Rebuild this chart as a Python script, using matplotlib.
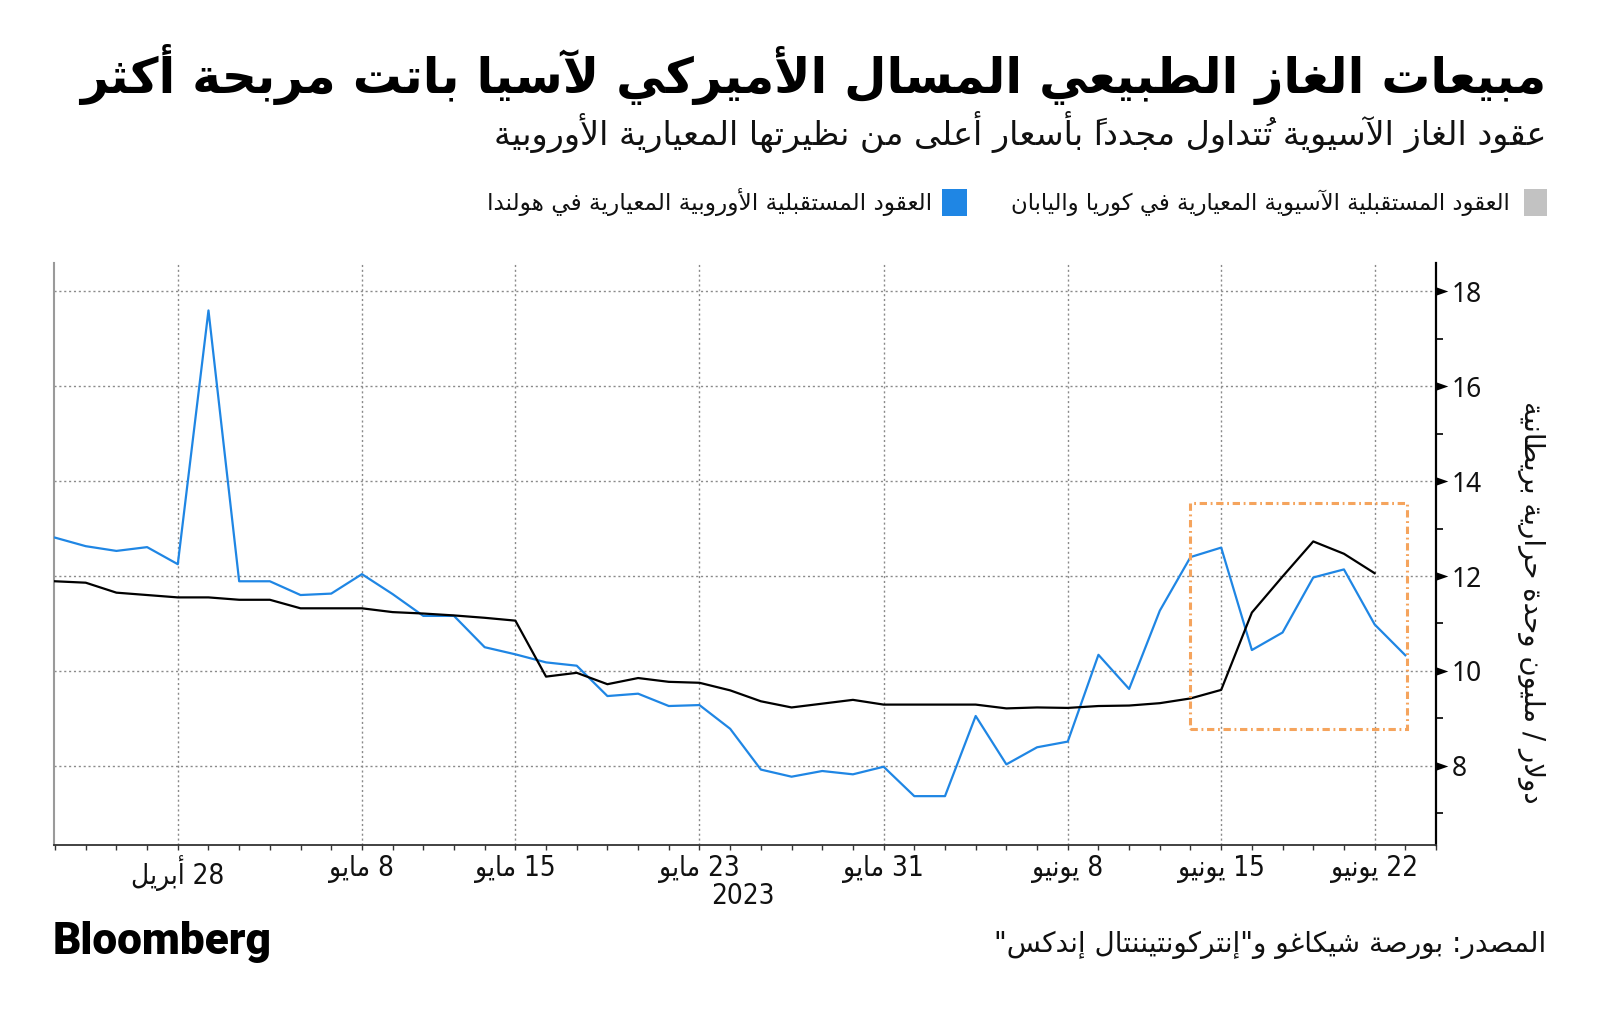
import numpy as np
import pandas as pd
import matplotlib
matplotlib.use("Agg")
import matplotlib.pyplot as plt
from matplotlib.patches import Rectangle
from matplotlib.path import Path
from matplotlib.ticker import FixedLocator, MultipleLocator

# ---------------- data ----------------
trading_days = pd.bdate_range("2023-04-24", "2023-06-23")

# European benchmark (Dutch TTF) futures, $/MMBtu
eu_values = [12.81, 12.63, 12.53, 12.61, 12.25, 17.60, 11.89, 11.89, 11.60, 11.63,
             12.04, 11.62, 11.16, 11.16, 10.50, 10.35, 10.18, 10.11, 9.47, 9.52,
             9.26, 9.28, 8.78, 7.92, 7.77, 7.89, 7.82, 7.98, 7.36, 7.36,
             9.05, 8.03, 8.39, 8.51, 10.34, 9.62, 11.27, 12.40, 12.60, 10.44,
             10.81, 11.97, 12.14, 10.98, 10.33]

# Asian benchmark (JKM) futures, $/MMBtu
asia_values = [11.89, 11.86, 11.65, 11.60, 11.55, 11.55, 11.50, 11.50, 11.32, 11.32,
               11.32, 11.24, 11.21, 11.17, 11.12, 11.06, 9.88, 9.96, 9.72, 9.85,
               9.77, 9.75, 9.59, 9.36, 9.23, 9.31, 9.39, 9.29, 9.29, 9.29,
               9.29, 9.21, 9.23, 9.22, 9.26, 9.27, 9.32, 9.42, 9.60, 11.23,
               11.99, 12.73, 12.47, 12.06]

tick_dates = ["2023-04-28", "2023-05-08", "2023-05-15", "2023-05-23",
              "2023-05-31", "2023-06-08", "2023-06-15", "2023-06-22"]
tick_labels = ["28 أبريل", "8 مايو", "15 مايو", "23 مايو",
               "31 مايو", "8 يونيو", "15 يونيو", "22 يونيو"]
y_ticks = [8, 10, 12, 14, 16, 18]
y_minor = [7, 9, 11, 13, 15, 17]

title = "مبيعات الغاز الطبيعي المسال الأميركي لآسيا باتت مربحة أكثر"
subtitle = "عقود الغاز الآسيوية تُتداول مجدداً بأسعار أعلى من نظيرتها المعيارية الأوروبية"
legend_asia = "العقود المستقبلية الآسيوية المعيارية في كوريا واليابان"
legend_eu = "العقود المستقبلية الأوروبية المعيارية في هولندا"
y_label = "دولار / مليون وحدة حرارية بريطانية"
source = 'المصدر: بورصة شيكاغو و"إنتركونتيننتال إندكس"'
year_label = "2023"

# highlighted window (annotation box)
box_x0, box_x1 = 37.0, 44.05
box_y0, box_y1 = 8.77, 13.55

BLUE = "#1f86e4"
ORANGE = "#f5a45d"

# ---------------- minimal Arabic shaping (presentation forms) ----------------
_AR = [("\u0621", 0xFE80, 1), ("\u0622", 0xFE81, 2), ("\u0623", 0xFE83, 2), ("\u0624", 0xFE85, 2),
       ("\u0625", 0xFE87, 2), ("\u0626", 0xFE89, 4), ("\u0627", 0xFE8D, 2), ("\u0628", 0xFE8F, 4),
       ("\u0629", 0xFE93, 2), ("\u062A", 0xFE95, 4), ("\u062B", 0xFE99, 4), ("\u062C", 0xFE9D, 4),
       ("\u062D", 0xFEA1, 4), ("\u062E", 0xFEA5, 4), ("\u062F", 0xFEA9, 2), ("\u0630", 0xFEAB, 2),
       ("\u0631", 0xFEAD, 2), ("\u0632", 0xFEAF, 2), ("\u0633", 0xFEB1, 4), ("\u0634", 0xFEB5, 4),
       ("\u0635", 0xFEB9, 4), ("\u0636", 0xFEBD, 4), ("\u0637", 0xFEC1, 4), ("\u0638", 0xFEC5, 4),
       ("\u0639", 0xFEC9, 4), ("\u063A", 0xFECD, 4), ("\u0641", 0xFED1, 4), ("\u0642", 0xFED5, 4),
       ("\u0643", 0xFED9, 4), ("\u0644", 0xFEDD, 4), ("\u0645", 0xFEE1, 4), ("\u0646", 0xFEE5, 4),
       ("\u0647", 0xFEE9, 4), ("\u0648", 0xFEED, 2), ("\u0649", 0xFEEF, 2), ("\u064A", 0xFEF1, 4)]
FORMS = {c: (b, n) for c, b, n in _AR}
LAM_ALEF = {"\u0622": 0xFEF5, "\u0623": 0xFEF7, "\u0625": 0xFEF9, "\u0627": 0xFEFB}


def _is_mark(c):
    return "\u064B" <= c <= "\u0652" or c == "\u0670"


def _shape(s):
    cl = []
    for ch in s:
        if _is_mark(ch) and cl:
            cl[-1][1] += ch
        else:
            cl.append([ch, ""])
    tok = []
    i = 0
    while i < len(cl):
        b, m = cl[i]
        if b == "\u0644" and i + 1 < len(cl) and cl[i + 1][0] in LAM_ALEF:
            tok.append(["LIG", cl[i + 1][0], m + cl[i + 1][1]])
            i += 2
            continue
        tok.append(["A" if b in FORMS else "O", b, m])
        i += 1

    def dual(t):
        return t[0] == "A" and FORMS[t[1]][1] == 4

    def joins(t):
        return t[0] == "LIG" or (t[0] == "A" and FORMS[t[1]][1] >= 2)

    out = []
    for k, t in enumerate(tok):
        # marks are placed before their base in visual order so that they
        # are drawn over the base glyph (zero-advance marks)
        if t[0] == "O":
            out.append(t[2] + t[1])
            continue
        prev_ok = k > 0 and dual(tok[k - 1])
        if t[0] == "LIG":
            out.append(t[2] + chr(LAM_ALEF[t[1]] + (1 if prev_ok else 0)))
            continue
        base, n = FORMS[t[1]]
        if n == 1:
            out.append(t[2] + chr(base))
            continue
        next_ok = n == 4 and k + 1 < len(tok) and joins(tok[k + 1])
        if prev_ok and next_ok:
            f = 3
        elif prev_ok:
            f = 1
        elif next_ok:
            f = 2
        else:
            f = 0
        out.append(t[2] + chr(base + f))
    return out


def ar(s):
    cl = _shape(s)
    runs = []
    for c in cl:
        b = c[-1]
        t = b.isascii() and b.isalnum()
        if runs and runs[-1][0] == t:
            runs[-1][1].append(c)
        else:
            runs.append([t, [c]])
    vis = []
    for t, cs in reversed(runs):
        vis.extend(cs if t else list(reversed(cs)))
    return "".join(vis)


# ---------------- figure ----------------
W, H = 1600, 1018
fig = plt.figure(figsize=(16, 10.18), dpi=100)
fig.patch.set_facecolor("white")


def fx(px):
    return px / W


def fy(py):
    return 1 - py / H


renderer = fig.canvas.get_renderer()


def fit_width(t, target):
    w = t.get_window_extent(renderer).width
    t.set_fontsize(t.get_fontsize() * target / w)
    return t


AR_FONT = ["DejaVu Sans"]

ax = fig.add_axes([fx(53.5), fy(845), fx(1436) - fx(53.5), fy(263) - fy(845)])
x = np.arange(len(trading_days))
ax.plot(x, eu_values, color=BLUE, lw=1.6, zorder=3)
ax.plot(x[:len(asia_values)], asia_values, color="black", lw=1.6, zorder=4)

ax.add_patch(Rectangle((box_x0, box_y0), box_x1 - box_x0, box_y1 - box_y0, fill=False,
                       ec=ORANGE, lw=2.2, ls=(0, (2.4, 1.2, 0.6, 1.2)), zorder=5))

ax.set_xlim(-0.05, 45.0)
ax.set_ylim(6.33, 18.6)

tick_pos = trading_days.get_indexer(pd.to_datetime(tick_dates))
ax.set_xticks(tick_pos)
ax.set_xticklabels([ar(l) for l in tick_labels], fontfamily=AR_FONT, fontstretch="condensed")
ax.xaxis.set_minor_locator(MultipleLocator(1))

ax.yaxis.tick_right()
ax.set_yticks(y_ticks)
ax.set_yticklabels([str(v) for v in y_ticks], fontfamily="Noto Sans")
ax.yaxis.set_minor_locator(FixedLocator(y_minor))

ax.tick_params(axis="x", which="both", length=3.5, width=1, color="#333", direction="out")
ax.tick_params(axis="x", which="major", labelsize=20, pad=4, labelcolor="#111")
ax.tick_params(axis="y", which="major", length=6, width=0, pad=5.5, labelsize=19,
               labelcolor="#111", color="black")
ax.tick_params(axis="y", which="minor", length=5, width=1.2, color="black")

tri = Path([(0, -0.35), (0, 0.35), (1, 0), (0, -0.35)],
           [Path.MOVETO, Path.LINETO, Path.LINETO, Path.CLOSEPOLY])
for t in ax.yaxis.get_major_ticks():
    t.tick2line.set_marker(tri)
    t.tick2line.set_markersize(17)
    t.tick2line.set_markerfacecolor("black")
    t.tick2line.set_markeredgewidth(0)

ax.grid(True, which="major", axis="both", ls=(0, (1.5, 2)), color="#8a8a8a", lw=1)
ax.set_axisbelow(True)

ax.spines["top"].set_visible(False)
ax.spines["left"].set_color("#9a9a9a")
ax.spines["left"].set_linewidth(1.5)
ax.spines["right"].set_color("black")
ax.spines["right"].set_linewidth(1.6)
ax.spines["bottom"].set_color("#333")
ax.spines["bottom"].set_linewidth(1.3)

# year under the axis
fig.text(fx(743), fy(904), year_label, ha="center", va="baseline", fontsize=20,
         family=AR_FONT, fontstretch="condensed", color="#111")

# y label (rotated, right side)
yl = fig.text(fx(1531), fy(602), ar(y_label), ha="center", va="center", fontsize=18,
              family=AR_FONT, color="#111")
fit_width(yl, 403)
yl.set_rotation(270)

# title / subtitle
tt = fig.text(fx(1546), fy(93), ar(title), ha="right", va="baseline", fontsize=40,
              fontweight="bold", family=AR_FONT, color="black")
fit_width(tt, 1464)
st = fig.text(fx(1546), fy(145), ar(subtitle), ha="right", va="baseline", fontsize=24,
              family=AR_FONT, color="#111")
fit_width(st, 1053)

# legend (right-to-left)
fig.patches.append(Rectangle((fx(1524), fy(216)), fx(23), fy(189) - fy(216),
                             transform=fig.transFigure, fc="#c2c2c2", ec="none"))
fig.patches.append(Rectangle((fx(942), fy(216)), fx(25), fy(189) - fy(216),
                             transform=fig.transFigure, fc=BLUE, ec="none"))
l1 = fig.text(fx(1510), fy(210), ar(legend_asia), ha="right", va="baseline", fontsize=18,
              family=AR_FONT, color="#111")
fit_width(l1, 502)
l2 = fig.text(fx(932), fy(210), ar(legend_eu), ha="right", va="baseline", fontsize=18,
              family=AR_FONT, color="#111")
fit_width(l2, 446)

# footer
src = fig.text(fx(1546), fy(952), ar(source), ha="right", va="baseline", fontsize=20,
               family=AR_FONT, color="#111")
fit_width(src, 551)
bb = fig.text(fx(53), fy(954), "Bloomberg", ha="left", va="baseline", fontsize=30,
              family="Roboto", fontweight="black", color="black")
fit_width(bb, 219)

fig.savefig("out.png", dpi=100, facecolor="white")
